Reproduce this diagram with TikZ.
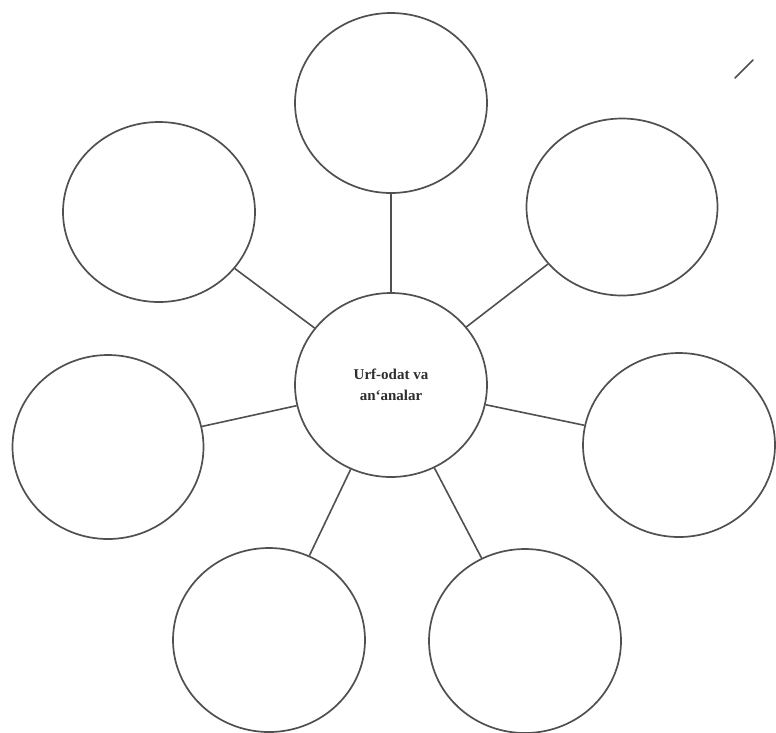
\documentclass[tikz,border=0pt]{standalone}
\usepackage{fontspec}
\setmainfont{Liberation Serif}
\usetikzlibrary{shapes.geometric}
\definecolor{inkc}{HTML}{505050}
\definecolor{txtc}{HTML}{2E2E2E}
\tikzset{
  bubble/.style={ellipse, draw=inkc, line width=1.7pt, fill=white,
    minimum width=192pt, minimum height=184pt, inner sep=0pt},
  link/.style={draw=inkc, line width=1.6pt}
}
\begin{document}
\begin{tikzpicture}[x=1pt,y=-1pt]
\useasboundingbox (0,0) rectangle (776,732);
\fill[white] (0,0) rectangle (776,732);
\node[bubble, align=center, font=\fontsize{15}{21}\selectfont\bfseries\color{txtc}] (c) at (391,385) {Urf-odat va\\an‘analar};
\node[bubble, minimum height=180pt] (t)  at (391,103) {};
\node[bubble, minimum height=180pt] (ul) at (159,212) {};
\node[bubble, minimum width=191pt, minimum height=177pt] (ur) at (622,207) {};
\node[bubble, minimum width=191pt] (l)  at (108,447) {};
\node[bubble, minimum width=192pt] (r)  at (679,445) {};
\node[bubble] (bl) at (269,640) {};
\node[bubble] (br) at (525,641) {};
\draw[link] (c) -- (t);
\draw[link] (c) -- (ul);
\draw[link] (c) -- (ur);
\draw[link] (c) -- (l);
\draw[link] (c) -- (r);
\draw[link] (c) -- (bl);
\draw[link] (c) -- (br);
\coordinate (m1) at (735,78);
\coordinate (m2) at (753,60);
\draw[draw=inkc, line width=1.6pt, line cap=round] (m1) -- (m2);
\end{tikzpicture}
\end{document}
